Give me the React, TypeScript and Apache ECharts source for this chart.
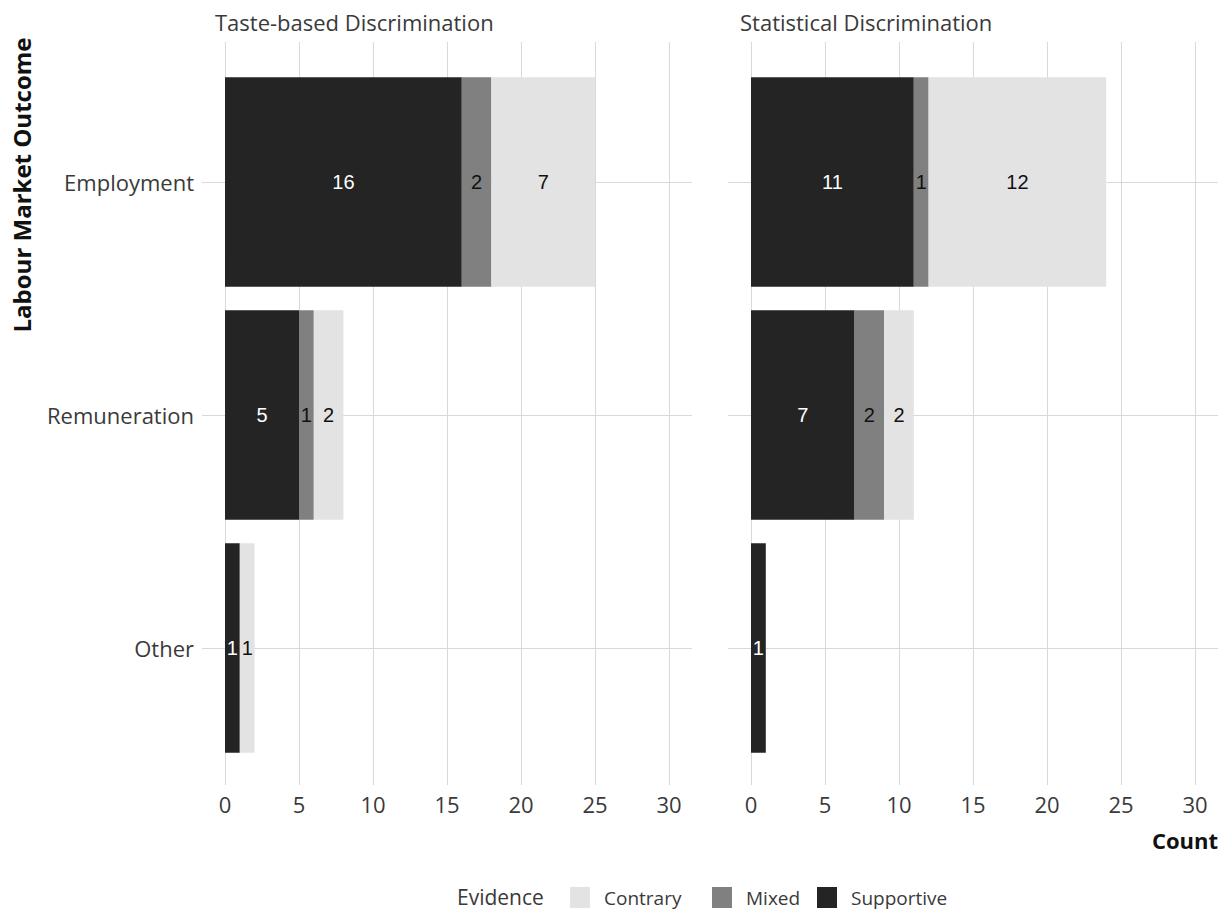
import React, { useEffect, useRef } from "react";
import * as echarts from "echarts";

const categories = ["Employment", "Remuneration", "Other"];
const panelTitles = ["Taste-based Discrimination", "Statistical Discrimination"];
const evidenceLevels = ["Supportive", "Mixed", "Contrary"];
const evidenceColors = ["#242424", "#808080", "#e3e3e3"];
const labelColors = ["#ffffff", "#111111", "#111111"];

const tasteSupportive = [16, 5, 1];
const tasteMixed = [2, 1, 0];
const tasteContrary = [7, 2, 1];
const statSupportive = [11, 7, 1];
const statMixed = [1, 2, 0];
const statContrary = [12, 2, 0];

const xMin = 0;
const xMax = 30;
const xInterval = 5;

const FONT = "'Open Sans', 'Noto Sans', sans-serif";
const GRID_COLOR = "#d9d9d9";
const TEXT_COLOR = "#3a3a3a";

export default function App() {
  const ref = useRef<HTMLDivElement>(null);

  useEffect(() => {
    document.body.style.margin = "0";
    if (!ref.current) return;
    const chart = echarts.init(ref.current, undefined, { renderer: "svg" });

    const panelData = [
      [tasteSupportive, tasteMixed, tasteContrary],
      [statSupportive, statMixed, statContrary],
    ];
    const zeroX = [225, 751];
    const unitPx = 14.8;
    const padL = 23;
    const panelW = 490;
    const panelTop = 42;
    const panelBottom = 785;
    const bandPx = 233;
    const firstCenter = 182;

    const grids: any[] = [];
    const xAxes: any[] = [];
    const yAxes: any[] = [];
    const series: any[] = [];

    for (let p = 0; p < 2; p++) {
      grids.push({
        left: zeroX[p],
        width: (xMax - xMin) * unitPx,
        top: panelTop,
        height: panelBottom - panelTop,
        containLabel: false,
      });
      xAxes.push({
        type: "value",
        gridIndex: 2 * p,
        min: xMin,
        max: xMax,
        interval: xInterval,
        axisLine: { show: false },
        axisTick: { show: false },
        splitLine: { show: true, lineStyle: { color: GRID_COLOR, width: 1 } },
        axisLabel: {
          fontFamily: FONT,
          fontSize: 22,
          color: TEXT_COLOR,
          margin: 8,
        },
      });
      yAxes.push({
        type: "value",
        gridIndex: 2 * p,
        show: false,
        min: 0,
        max: 1,
      });

      const left = zeroX[p] - padL;
      const bMin = -padL / unitPx;
      const bMax = (panelW - padL) / unitPx;
      grids.push({
        left,
        width: panelW,
        top: firstCenter - bandPx / 2,
        height: bandPx * categories.length,
        containLabel: false,
      });
      xAxes.push({
        type: "value",
        gridIndex: 2 * p + 1,
        min: bMin,
        max: bMax,
        show: false,
      });
      yAxes.push({
        type: "category",
        gridIndex: 2 * p + 1,
        data: categories,
        inverse: true,
        axisLine: { show: false },
        axisTick: { show: false },
        splitLine: { show: false },
        axisLabel: {
          show: p === 0,
          fontFamily: FONT,
          fontSize: 22,
          color: TEXT_COLOR,
          margin: 8,
        },
      });

      series.push({
        type: "scatter",
        xAxisIndex: 2 * p + 1,
        yAxisIndex: 2 * p + 1,
        data: [],
        silent: true,
        markLine: {
          z: 1,
          silent: true,
          symbol: "none",
          label: { show: false },
          lineStyle: { color: GRID_COLOR, width: 1, type: "solid" },
          data: categories.map((c) => ({ yAxis: c })),
        },
      });

      for (let e = 0; e < evidenceLevels.length; e++) {
        series.push({
          type: "bar",
          name: evidenceLevels[e],
          xAxisIndex: 2 * p + 1,
          yAxisIndex: 2 * p + 1,
          stack: "panel" + p,
          barWidth: "90%",
          z: 3,
          itemStyle: { color: evidenceColors[e] },
          label: {
            show: true,
            position: "inside",
            fontFamily: "'Liberation Sans', Arial, sans-serif",
            fontSize: 20,
            color: labelColors[e],
            formatter: (prm: any) => (prm.value > 0 ? String(prm.value) : ""),
          },
          data: panelData[p][e],
        });
      }
    }

    const legendItems = [
      { name: "Contrary", left: 570 },
      { name: "Mixed", left: 712 },
      { name: "Supportive", left: 817 },
    ];

    chart.setOption({
      animation: false,
      grid: grids,
      xAxis: xAxes,
      yAxis: yAxes,
      series,
      legend: legendItems.map((li) => ({
        data: [li.name],
        left: li.left,
        top: 887,
        padding: 0,
        icon: "rect",
        itemWidth: 20,
        itemHeight: 21,
        selectedMode: false,
        textStyle: {
          fontFamily: FONT,
          fontSize: 19,
          color: TEXT_COLOR,
          padding: [0, 0, 0, 9],
        },
      })),
      graphic: [
        {
          type: "text",
          x: 215,
          y: 22,
          style: {
            text: panelTitles[0],
            font: `22px ${FONT}`,
            fill: TEXT_COLOR,
            align: "left",
            verticalAlign: "middle",
          },
        },
        {
          type: "text",
          x: 740,
          y: 22,
          style: {
            text: panelTitles[1],
            font: `22px ${FONT}`,
            fill: TEXT_COLOR,
            align: "left",
            verticalAlign: "middle",
          },
        },
        {
          type: "text",
          x: 21,
          y: 185,
          rotation: Math.PI / 2,
          style: {
            text: "Labour Market Outcome",
            font: `bold 24px ${FONT}`,
            fill: "#111111",
            align: "center",
            verticalAlign: "middle",
          },
        },
        {
          type: "text",
          x: 1218,
          y: 840,
          style: {
            text: "Count",
            font: `bold 22px ${FONT}`,
            fill: "#111111",
            align: "right",
            verticalAlign: "middle",
          },
        },
        {
          type: "text",
          x: 457,
          y: 897,
          style: {
            text: "Evidence",
            font: `21px ${FONT}`,
            fill: TEXT_COLOR,
            align: "left",
            verticalAlign: "middle",
          },
        },
      ],
    });

    return () => chart.dispose();
  }, []);

  return <div ref={ref} style={{ width: 1229, height: 914 }} />;
}
